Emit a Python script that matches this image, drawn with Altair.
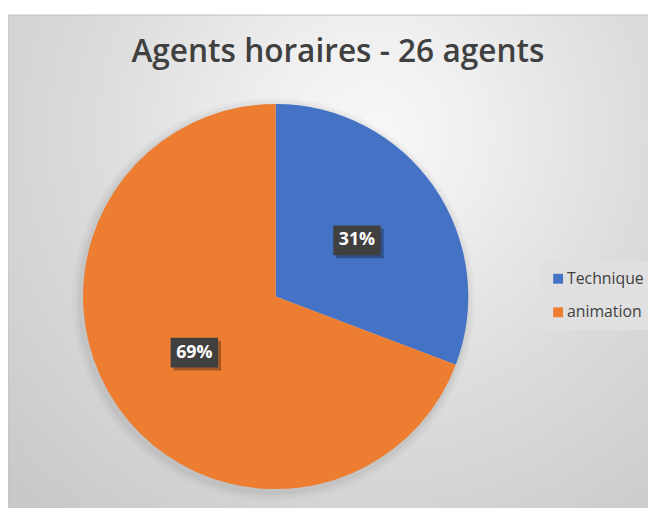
import altair as alt
import pandas as pd

# ---- data ----
categories = ["Technique", "animation"]
counts = [8, 18]
order_idx = [0, 1]
colors = ["#4472C4", "#ED7D31"]
chart_title = ["Agents horaires - 26 agents"]

# ---- layout ----
W, H = 648, 500
DX = 4
CX, CY, R = 267 + DX, 289, 195
LR = 100          # label radius
BW, BH = 48, 30   # label box size
FONT = "Open Sans"
SQ = W + 20       # square background so the radial gradient stays circular

df = pd.DataFrame({"cat": categories, "n": counts, "idx": order_idx})
one = pd.DataFrame({"t": chart_title})

grad = alt.RadialGradient(
    gradient="radial",
    stops=[alt.GradientStop(color="#f8f8f8", offset=0),
           alt.GradientStop(color="#f0f0f0", offset=0.15),
           alt.GradientStop(color="#dcdcdc", offset=0.42),
           alt.GradientStop(color="#d3d3d3", offset=0.58),
           alt.GradientStop(color="#c9c9c9", offset=0.75),
           alt.GradientStop(color="#c6c6c6", offset=1)],
    x1=0.55, y1=0.18, x2=0.55, y2=0.18, r1=0, r2=1)

bg = alt.Chart(one).mark_rect(fill=grad).encode(
    x=alt.value(0), x2=alt.value(SQ), y=alt.value(4), y2=alt.value(4 + SQ))

frame = alt.Chart(one).mark_rect(fillOpacity=0, stroke="#c0c0c0", strokeWidth=1).encode(
    x=alt.value(0), x2=alt.value(W + 20), y=alt.value(4), y2=alt.value(H + 20))

title = alt.Chart(one).mark_text(
    font=FONT, fontSize=32, fontWeight=600, color="#404040",
    align="center", baseline="alphabetic").encode(
    x=alt.value(330 + DX), y=alt.value(52), text="t:N")

# soft shadow around the pie (offset down-left)
shadow_layers = [
    alt.Chart(one).mark_arc(theta=0, theta2=6.2832, outerRadius=R + rr,
                            fill="#808080", opacity=oo).encode(
        x=alt.value(CX - 2), y=alt.value(CY + 3))
    for rr, oo in [(9, 0.05), (6, 0.07), (3, 0.1)]
]

pie = alt.Chart(df).mark_arc(outerRadius=R).encode(
    theta=alt.Theta("n:Q", stack=True),
    order=alt.Order("idx:Q"),
    color=alt.Color("cat:N", scale=alt.Scale(domain=categories, range=colors),
                    legend=alt.Legend(title=None, orient="none", legendX=539, legendY=253,
                                      symbolType="square", symbolSize=100,
                                      symbolStrokeWidth=0,
                                      labelFontSize=16, labelFont=FONT,
                                      labelColor="#404040", rowPadding=18,
                                      padding=10, fillColor="#e0e0e0",
                                      labelOffset=1)),
    x=alt.value(CX), y=alt.value(CY))

lab = alt.Chart(df).transform_joinaggregate(
    total="sum(n)"
).transform_window(
    cum="sum(n)", sort=[alt.SortField("idx")], frame=[None, 0]
).transform_calculate(
    mid="(datum.cum - datum.n/2) / datum.total * 2 * PI",
    lx=f"{CX} + {LR} * sin(datum.mid)",
    ly=f"{CY} - {LR} * cos(datum.mid)",
    bx1=f"datum.lx - {BW/2}", bx2=f"datum.lx + {BW/2}",
    by1=f"datum.ly - {BH/2}", by2=f"datum.ly + {BH/2}",
    sx1="datum.bx1 + 3", sx2="datum.bx2 + 3",
    sy1="datum.by1 + 3", sy2="datum.by2 + 3",
    pct="format(datum.n / datum.total, '.0%')",
)

box_shadow = lab.mark_rect(fill="#000000", opacity=0.3).encode(
    x=alt.X("sx1:Q", scale=None, axis=None), x2="sx2:Q",
    y=alt.Y("sy1:Q", scale=None, axis=None), y2="sy2:Q")

box = lab.mark_rect(fill="#404040").encode(
    x=alt.X("bx1:Q", scale=None, axis=None), x2="bx2:Q",
    y=alt.Y("by1:Q", scale=None, axis=None), y2="by2:Q")

txt = lab.mark_text(font=FONT, fontSize=18, fontWeight="bold", color="white",
                    align="center", baseline="middle").encode(
    x=alt.X("lx:Q", scale=None, axis=None),
    y=alt.Y("ly:Q", scale=None, axis=None),
    text="pct:N")

chart = alt.layer(bg, frame, title, *shadow_layers, pie, box_shadow, box, txt).properties(
    width=W, height=H, padding=0, autosize=alt.AutoSizeParams(type="none"),
    background="white"
).configure_view(stroke=None).resolve_scale(x="independent", y="independent")

chart.save("out.html", embed_options={"renderer": "svg", "actions": False})
